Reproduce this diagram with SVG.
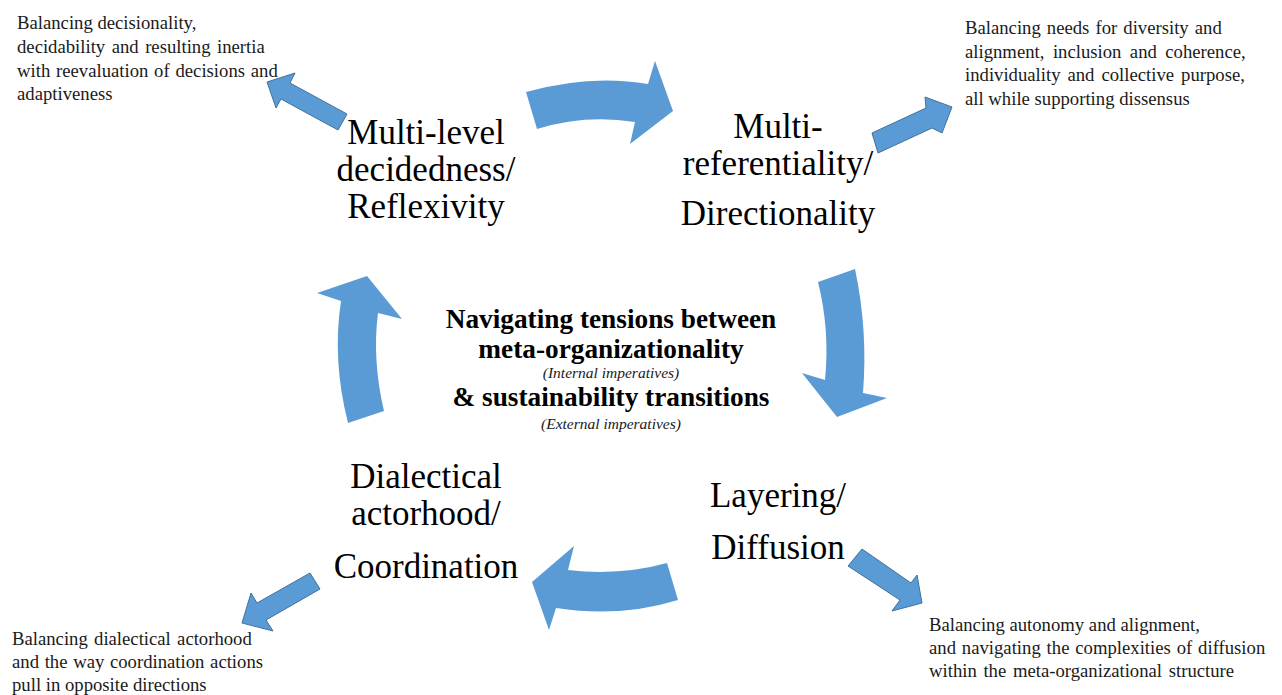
<svg xmlns="http://www.w3.org/2000/svg" width="1282" height="695" viewBox="0 0 1282 695">
<style>
.bg{fill:#ffffff}
.curve{fill:#5B9BD5;stroke:none}
.arr{fill:#5B9BD5;stroke:#41719C;stroke-width:1;stroke-linejoin:miter}
.main{font-family:"Liberation Serif","Times New Roman",serif;font-size:35px;fill:#000;text-anchor:middle}
.ann{font-family:"Liberation Serif","Times New Roman",serif;font-size:18.7px;fill:#1a1a1a}
.ctr{font-family:"Liberation Serif","Times New Roman",serif;font-size:27.3px;font-weight:bold;fill:#000;text-anchor:middle}
.it{font-family:"Liberation Serif","Times New Roman",serif;font-size:15.5px;font-style:italic;fill:#1a1a1a;text-anchor:middle}
</style>
<rect class="bg" x="0" y="0" width="1282" height="695"/>
<g id="connectors">
<path class="curve" d="M526,92 Q590,74 648,84 L655,61 L673,111 L630,144 L635,122 Q585,114 537,129 Z"/>
<path class="curve" d="M818,282 L855,269 Q868,330 863,393 L887,398 L837,417 L802,373 L825,380 Q830,330 818,282 Z"/>
<path class="curve" d="M667,563 Q620,576 568,570 L574,546 L532,582 L549,630 L556,608 Q620,618 678,600 Z"/>
<path class="curve" d="M348,423 L384,411 Q372,360 378,313 L402,319 L367,276 L317,293 L341,301 Q332,360 348,423 Z"/>
<polygon class="arr" points="267,82 295,73 290,83 347,114 338,130 281,99 276,108"/>
<polygon class="arr" points="952,107 925,97 926,108 872,133 878,153 932,128 942,133"/>
<polygon class="arr" points="862,549 911,583 917,575 922,603 892,611 900,600 848,566"/>
<polygon class="arr" points="310,573 257,603 251,593 242,623 273,631 266,620 320,589"/>
</g>
<g id="node-reflexivity">
<text class="main" x="426" y="144">Multi-level</text>
<text class="main" x="426" y="181">decidedness/</text>
<text class="main" x="426" y="218">Reflexivity</text>
</g>
<g id="node-directionality">
<text class="main" x="778" y="138">Multi-</text>
<text class="main" x="778" y="175">referentiality/</text>
<text class="main" x="778" y="225">Directionality</text>
</g>
<g id="node-diffusion">
<text class="main" x="778" y="507">Layering/</text>
<text class="main" x="778" y="559">Diffusion</text>
</g>
<g id="node-coordination">
<text class="main" x="426" y="488">Dialectical</text>
<text class="main" x="426" y="525">actorhood/</text>
<text class="main" x="426" y="578">Coordination</text>
</g>
<g id="node-center">
<text class="ctr" x="611" y="328">Navigating tensions between</text>
<text class="ctr" x="611" y="358">meta-organizationality</text>
<text class="it" x="611" y="378">(Internal imperatives)</text>
<text class="ctr" x="611" y="406">&amp; sustainability transitions</text>
<text class="it" x="611" y="429">(External imperatives)</text>
</g>
<g id="note-top-left">
<text class="ann" x="17" y="29">Balancing decisionality,</text>
<text class="ann" x="17" y="53" word-spacing="1.8">decidability and resulting inertia</text>
<text class="ann" x="17" y="76.5" word-spacing="1.1">with reevaluation of decisions and</text>
<text class="ann" x="17" y="100">adaptiveness</text>
</g>
<g id="note-top-right">
<text class="ann" x="965" y="34" word-spacing="1.4">Balancing needs for diversity and</text>
<text class="ann" x="965" y="57.5" word-spacing="3.8">alignment, inclusion and coherence,</text>
<text class="ann" x="965" y="81" word-spacing="2.3">individuality and collective purpose,</text>
<text class="ann" x="965" y="104.5">all while supporting dissensus</text>
</g>
<g id="note-bottom-right">
<text class="ann" x="929" y="631">Balancing autonomy and alignment,</text>
<text class="ann" x="929" y="654" word-spacing="1.2">and navigating the complexities of diffusion</text>
<text class="ann" x="929" y="677" word-spacing="2">within the meta-organizational structure</text>
</g>
<g id="note-bottom-left">
<text class="ann" x="12" y="645" word-spacing="1.6">Balancing dialectical actorhood</text>
<text class="ann" x="12" y="668" word-spacing="1">and the way coordination actions</text>
<text class="ann" x="12" y="691">pull in opposite directions</text>
</g>
</svg>
